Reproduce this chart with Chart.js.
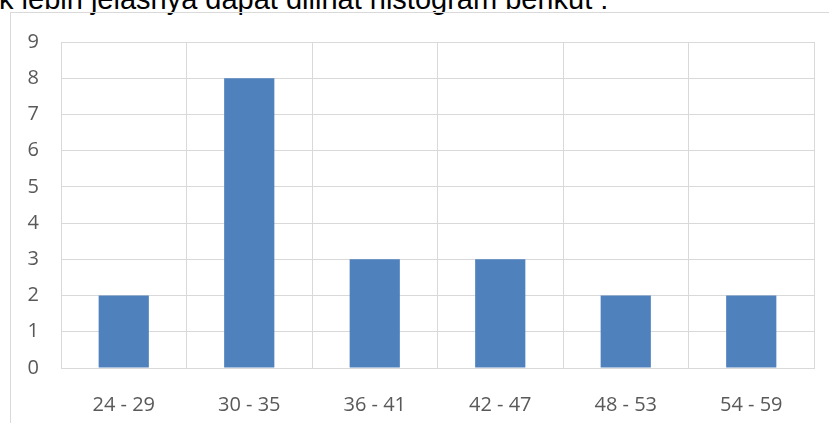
<!DOCTYPE html>
<html>
<head>
<meta charset="utf-8">
<script src="https://cdn.jsdelivr.net/npm/chart.js@4.4.1/dist/chart.umd.min.js"></script>
<style>
  html, body { margin: 0; padding: 0; background: #fff; overflow: hidden; }
  #page { position: relative; width: 829px; height: 423px; }
  #caption {
    position: absolute; left: -1px; top: -15px;
    font-family: "Liberation Sans", Arial, sans-serif;
    font-size: 29px; line-height: 29px; color: #000; white-space: nowrap;
  }
  #frame {
    position: absolute; left: 10px; top: 12px; width: 900px; height: 500px;
    border-left: 1px solid #d9d9d9; border-top: 1px solid #d9d9d9;
  }
  #wrap { position: absolute; left: 0; top: 0; width: 829px; height: 423px; }
</style>
</head>
<body>
<div id="page">
  <div id="caption">k lebih jelasnya dapat dilihat histogram berikut :</div>
  <div id="frame"></div>
  <div id="wrap"><canvas id="histChart" width="829" height="423"></canvas></div>
</div>
<script>
// class intervals and their frequencies
const intervals = ["24 - 29", "30 - 35", "36 - 41", "42 - 47", "48 - 53", "54 - 59"];
const frequency = [2, 8, 3, 3, 2, 2];
const yTicks = [0, 1, 2, 3, 4, 5, 6, 7, 8, 9];

const gridColor = "#d9d9d9";
const labelColor = "#595959";

const ctx = document.getElementById("histChart").getContext("2d");

new Chart(ctx, {
  type: "bar",
  data: {
    labels: intervals,
    datasets: [{
      data: frequency,
      backgroundColor: "#4f81bd",
      borderWidth: 0,
      categoryPercentage: 1,
      barPercentage: 0.4,
    }],
  },
  options: {
    responsive: false,
    animation: false,
    layout: { padding: { top: 42, right: 15, left: 0, bottom: 0 } },
    plugins: { legend: { display: false }, tooltip: { enabled: false } },
    scales: {
      x: {
        grid: { color: gridColor, lineWidth: 1, drawTicks: false, offset: true },
        border: { color: gridColor },
        ticks: {
          color: labelColor,
          padding: 25,
          maxRotation: 0,
          font: { family: "'Open Sans'", size: 20 },
        },
        afterFit: (scale) => { scale.height = 55; },
      },
      y: {
        min: 0,
        max: 9,
        grid: { color: gridColor, lineWidth: 1, drawTicks: false },
        border: { color: gridColor },
        afterBuildTicks: (scale) => { scale.ticks = yTicks.map((v) => ({ value: v })); },
        ticks: {
          color: labelColor,
          padding: 22,
          font: { family: "'Open Sans'", size: 20 },
        },
        afterFit: (scale) => { scale.width = 61; },
      },
    },
  },
});
</script>
</body>
</html>
